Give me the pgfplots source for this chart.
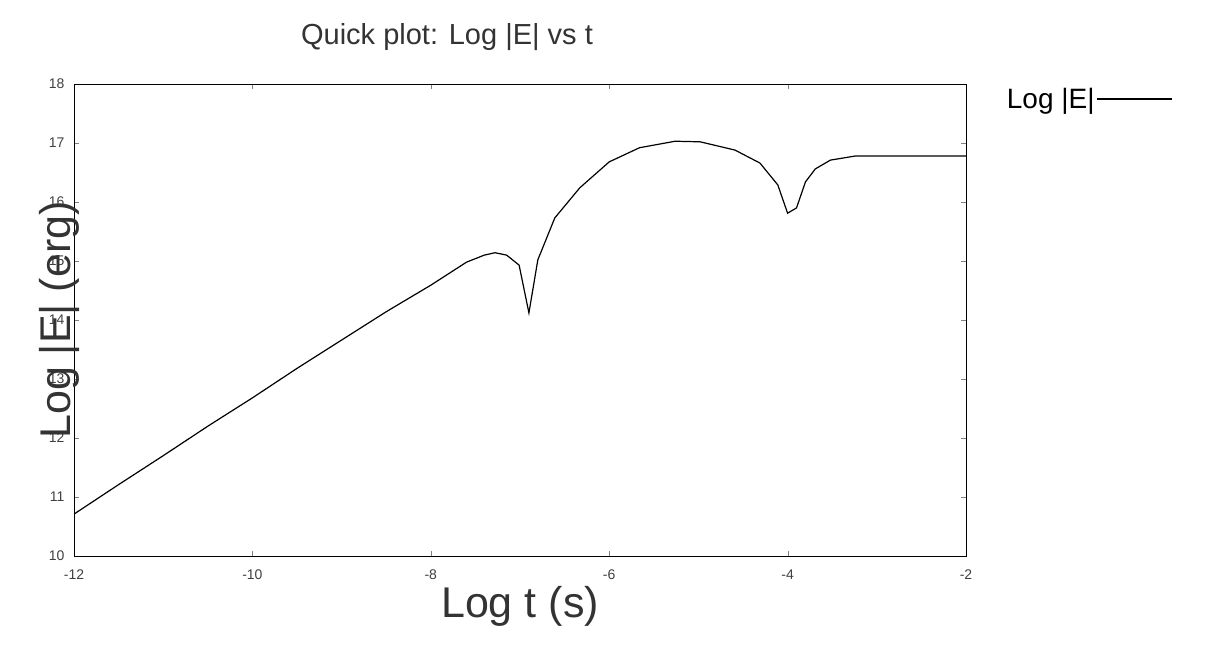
\documentclass[border=0pt]{standalone}
\usepackage{pgfplots}
\pgfplotsset{compat=1.18}
\usepackage{fontspec}
\setmainfont{Liberation Sans}
\begin{document}
\begin{tikzpicture}[x=1pt,y=1pt]
\useasboundingbox (-74,-92) rectangle (1150,556);
\begin{axis}[at={(0,0)},anchor=south west,scale only axis,width=892pt,height=472pt,
 xmin=-12,xmax=-2,ymin=10,ymax=18,
 xtick={-12,-10,...,-2},ytick={10,11,...,18},
 tick align=inside,major tick length=5pt,
 tick label style={font=\fontsize{14}{16}\selectfont,text=black!75},
 /pgf/number format/assume math mode=true,
 xticklabel style={yshift=-10pt},
 yticklabel style={xshift=-6pt},
 title={Quick plot: Log |E| vs t},
 title style={font=\fontsize{29}{32}\selectfont,text=black!80,at={(0.5,1)},yshift=24pt,xshift=-73pt},
 xlabel={Log t (s)},
 xlabel style={font=\fontsize{43}{48}\selectfont,text=black!80,yshift=0pt},
 ylabel={Log |E| (erg)},
 ylabel style={font=\fontsize{43}{48}\selectfont,text=black!80,yshift=-38pt},
 legend style={at={(1.04,1)},anchor=north west,draw=none,fill=none,font=\fontsize{28}{32}\selectfont,legend cell align=right},
 legend plot pos=right,
 legend image code/.code={\draw[black,line width=1.2pt] (14pt,0) -- (89pt,0);},
]
\addplot[black,line width=1.2pt] coordinates {
(-12,10.71)(-11.5,11.21)(-11,11.70)(-10.5,12.20)(-10,12.68)(-9.5,13.18)(-9,13.66)(-8.5,14.14)(-8,14.59)(-7.6,14.98)(-7.4,15.10)(-7.28,15.14)(-7.15,15.10)(-7.01,14.93)(-6.90,14.12)(-6.80,15.02)(-6.61,15.73)(-6.33,16.24)(-6.0,16.68)(-5.66,16.92)(-5.26,17.03)(-4.98,17.02)(-4.59,16.88)(-4.31,16.66)(-4.11,16.29)(-4.0,15.81)(-3.90,15.90)(-3.80,16.34)(-3.69,16.56)(-3.52,16.71)(-3.24,16.78)(-2,16.78)};
\addlegendentry{Log |E|}
\end{axis}
\end{tikzpicture}
\end{document}
